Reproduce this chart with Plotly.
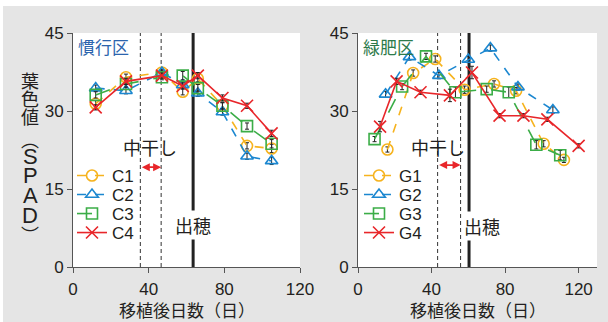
import plotly.graph_objects as go

# ---- data: SPAD readings vs days after transplanting ----
c_days = [12, 28, 47, 58, 66, 79, 92, 105]
c1 = [31.4, 36.5, 37.4, 33.7, 36.2, 31.0, 23.3, 22.8]
c2 = [34.4, 33.9, 37.4, 35.0, 33.4, 29.8, 21.3, 20.4]
c3 = [33.1, 35.2, 36.5, 36.8, 34.4, 31.0, 27.1, 23.7]
c4 = [30.7, 35.7, 36.8, 34.8, 36.8, 32.5, 31.0, 25.7]
c1_err = [0.6, 0.6, 0.5, 0.6, 0.6, 0.6, 0.6, 0.8]
c2_err = [0.6, 0.6, 0.5, 0.6, 0.6, 0.6, 0.6, 0.7]
c3_err = [0.6, 0.6, 0.5, 0.8, 0.7, 0.6, 0.6, 0.8]
c4_err = [0.5, 0.6, 0.5, 0.6, 0.6, 0.6, 0.5, 0.6]

g1_days = [16, 30, 42, 58, 74, 86, 101, 112]
g1 = [22.6, 37.3, 40.0, 34.1, 35.2, 33.9, 23.7, 20.6]
g1_err = [0.5, 0.6, 0.6, 0.7, 0.6, 0.6, 0.6, 0.5]
g2_days = [15, 28, 44, 60, 72, 87, 106]
g2 = [33.2, 40.4, 36.8, 39.9, 42.1, 34.6, 30.2]
g2_err = [0.6, 0.6, 0.6, 0.6, 0.6, 0.6, 0.6]
g3_days = [9, 24, 37, 53, 70, 82, 97, 110]
g3 = [24.6, 34.7, 40.5, 33.6, 34.2, 33.6, 23.5, 21.5]
g3_err = [0.5, 0.6, 0.6, 1.0, 0.6, 1.0, 0.8, 0.9]
g4_days = [12, 21, 34, 50, 62, 77, 90, 103, 120]
g4 = [27.0, 35.7, 33.6, 33.0, 37.4, 29.1, 29.1, 28.4, 23.3]
g4_err = [1.0, 0.6, 0.4, 1.2, 1.2, 0.4, 0.4, 0.4, 0.4]

# mid-season drainage period and heading day
c_drain = [35.6, 46.6]
c_heading = 63.5
g_drain = [43.3, 55.8]
g_heading = 60.4

x_ticks = [0, 40, 80, 120]
y_ticks = [0, 15, 30, 45]

ORANGE = "#f6b31e"
BLUE = "#1b87d0"
GREEN = "#3bad47"
RED = "#e8262a"
GRAY_BG = "#e5e5e5"
TXT = "#231f20"
FONT = "Liberation Sans, Arial, sans-serif"
NARROW = "Liberation Sans Narrow, Liberation Sans, Arial, sans-serif"
JP = "Noto Sans CJK JP, sans-serif"

W, H = 608, 322


def px_x(p):
    return p / W


def px_y(p):
    return (H - p) / H


styles = [
    (ORANGE, "circle-open", "dash"),
    (BLUE, "triangle-up-open", "dash"),
    (GREEN, "square-open", "longdash"),
    (RED, "x-thin-open", "solid"),
]

fig = go.Figure()


def add_series(name, xs, ys, err, style, xa, ya, legend):
    color, symbol, dash = style
    fig.add_trace(go.Scatter(
        x=xs, y=ys, name=name, mode="lines+markers",
        xaxis=xa, yaxis=ya, legend=legend,
        line=dict(color=color, width=1.6, dash=dash),
        marker=dict(symbol=symbol, size=11 if symbol != "x-thin-open" else 12,
                    color=color, line=dict(color=color, width=1.6)),
        error_y=dict(type="data", array=err, visible=True, color="#222222",
                     thickness=1, width=2),
    ))


c_sets = list(zip(["C1", "C2", "C3", "C4"], [c_days] * 4, [c1, c2, c3, c4],
                  [c1_err, c2_err, c3_err, c4_err], styles))
g_sets = list(zip(["G1", "G2", "G3", "G4"], [g1_days, g2_days, g3_days, g4_days],
                  [g1, g2, g3, g4], [g1_err, g2_err, g3_err, g4_err], styles))

# one small legend per entry so the rows sit at fixed heights
legend_rows = [176, 195, 214, 233]
legend_layout = {}
idx = 1
for (sets, xa, ya, x_left) in [(c_sets, "x", "y", 72), (g_sets, "x2", "y2", 359)]:
    for row, (nm, xs, ys, er, st) in zip(legend_rows, sets):
        key = "legend" if idx == 1 else f"legend{idx}"
        add_series(nm, xs, ys, er, st, xa, ya, key)
        legend_layout[key] = dict(
            x=px_x(x_left), y=px_y(row), xanchor="left", yanchor="middle",
            bgcolor="rgba(0,0,0,0)", itemwidth=30, borderwidth=0,
            font=dict(family=FONT, size=17, color=TXT))
        idx += 1

shapes = []
annotations = []

# white strips around the gray panel
shapes.append(dict(type="rect", xref="paper", yref="paper", x0=0, x1=1,
                   y0=px_y(6), y1=1, fillcolor="white", line_width=0))
shapes.append(dict(type="rect", xref="paper", yref="paper", x0=0, x1=px_x(3),
                   y0=0, y1=1, fillcolor="white", line_width=0))

for xa, ya, drain, heading, arrow_y in [("x", "y", c_drain, c_heading, 19.2),
                                        ("x2", "y2", g_drain, g_heading, 19.6)]:
    for d in drain:
        shapes.append(dict(type="line", xref=xa, yref=ya, x0=d, x1=d, y0=0, y1=45,
                           line=dict(color="#333333", width=1, dash="4px,3px"),
                           layer="below"))
    shapes.append(dict(type="line", xref=xa, yref=ya, x0=heading, x1=heading,
                       y0=0, y1=45, line=dict(color="#222222", width=3),
                       layer="below"))
    # drainage arrow
    annotations.append(dict(xref=xa, yref=ya, axref=xa, ayref=ya,
                            x=drain[1], y=arrow_y, ax=drain[0], ay=arrow_y,
                            text="", showarrow=True, arrowhead=2, arrowsize=1,
                            arrowwidth=1.6, arrowcolor=RED, arrowside="end+start"))


def label(text, x, y, size=17, color=TXT, family=JP, xref="paper", yref="paper",
          xanchor="center", yanchor="middle", bg=None):
    a = dict(xref=xref, yref=yref, x=x, y=y, text=text, showarrow=False,
             xanchor=xanchor, yanchor=yanchor,
             font=dict(family=family, size=size, color=color))
    if bg:
        a["bgcolor"] = bg
    return a


annotations += [
    label("中干し", 40.7, 23.1, size=18, xref="x", yref="y"),
    label("出穂", c_heading, 8.1, size=18, xref="x", yref="y", bg="white"),
    label("中干し", 43.7, 23.1, size=18, xref="x2", yref="y2"),
    label("出穂", 67.6, 7.9, size=18, xref="x2", yref="y2", bg="white"),
    label("慣行区", px_x(76), px_y(32), color="#2c64ad", xanchor="left", yanchor="top"),
    label("緑肥区", px_x(361), px_y(32), color="#2d7a4a", xanchor="left", yanchor="top"),
    label("移植後日数（日）", px_x(186.5), px_y(309)),
    label("移植後日数（日）", px_x(477.5), px_y(309)),
]

# vertical y-axis title, one glyph per row
title_glyphs = [("葉", 80, JP, 18), ("色", 98, JP, 18), ("値", 116, JP, 18),
                ("︵", 139, JP, 18), ("S", 156, NARROW, 22), ("P", 175, NARROW, 22),
                ("A", 195, NARROW, 22), ("D", 215, NARROW, 22), ("︶", 234, JP, 18)]
for ch, yy, fam, sz in title_glyphs:
    annotations.append(label(ch, px_x(30), px_y(yy), size=sz, family=fam))

axis_common = dict(showline=True, linecolor="#555555", linewidth=1,
                   ticks="outside", ticklen=5, tickcolor="#555555",
                   showgrid=False, zeroline=False, automargin=False,
                   tickfont=dict(family=FONT, size=17, color=TXT))

fig.update_layout(
    width=W, height=H,
    margin=dict(l=0, r=0, t=0, b=0, autoexpand=False),
    paper_bgcolor=GRAY_BG, plot_bgcolor="white",
    xaxis=dict(domain=[px_x(73), px_x(300)], range=[0, 120], tickvals=x_ticks,
               anchor="y", ticklabelstandoff=2, **axis_common),
    yaxis=dict(domain=[px_y(267), px_y(33)], range=[0, 45], tickvals=y_ticks,
               anchor="x", **axis_common),
    xaxis2=dict(domain=[px_x(358), px_x(597)], range=[0, 130], tickvals=x_ticks,
                anchor="y2", ticklabelstandoff=2, **axis_common),
    yaxis2=dict(domain=[px_y(267), px_y(33)], range=[0, 45], tickvals=y_ticks,
                anchor="x2", **axis_common),
    shapes=shapes, annotations=annotations, showlegend=True,
    **legend_layout,
)

fig.write_html("out.html")
